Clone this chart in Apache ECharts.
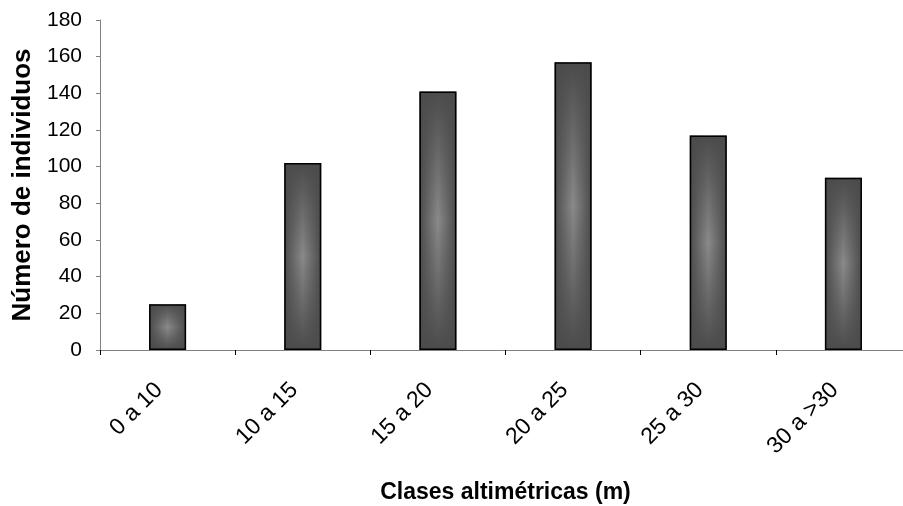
<!DOCTYPE html>
<html>
<head>
<meta charset="utf-8">
<script src="https://cdn.jsdelivr.net/npm/echarts@6/dist/echarts.min.js"></script>
<style>
html,body{margin:0;padding:0;background:#fff;}
#chart{width:903px;height:506px;}
</style>
</head>
<body>
<div id="chart"></div>
<script>
const categories = ['0 a 10', '10 a 15', '15 a 20', '20 a 25', '25 a 30', '30 a >30'];
const values = [25, 102, 141, 157, 117, 94];
const yTicks = { min: 0, max: 180, interval: 20 };
const xTitle = 'Clases altimétricas (m)';
const yTitle = 'Número de individuos';

const FONT = '"Liberation Sans", Arial, sans-serif';
const chart = echarts.init(document.getElementById('chart'));
chart.setOption({
  animation: false,
  backgroundColor: '#ffffff',
  grid: { left: 100, right: -8, top: 20, bottom: 156, containLabel: false, outerBoundsMode: 'none' },
  xAxis: {
    type: 'category',
    data: categories,
    boundaryGap: true,
    name: xTitle,
    nameLocation: 'middle',
    nameGap: 131,
    nameMoveOverlap: false,
    nameTextStyle: { fontFamily: FONT, fontWeight: 'bold', fontSize: 23, color: '#000' },
    axisLine: { lineStyle: { color: '#808080', width: 1 } },
    axisTick: { show: true, length: 5, lineStyle: { color: '#000' } },
    axisLabel: { rotate: 45, margin: 28, padding: [0, 12, 0, 0], fontFamily: FONT, fontSize: 23, color: '#000', interval: 0 },
    splitLine: { show: false }
  },
  yAxis: {
    type: 'value',
    min: yTicks.min,
    max: yTicks.max,
    interval: yTicks.interval,
    name: yTitle,
    nameLocation: 'middle',
    nameGap: 64,
    nameRotate: 90,
    nameMoveOverlap: false,
    nameTextStyle: { fontFamily: FONT, fontWeight: 'bold', fontSize: 26, color: '#000' },
    axisLine: { show: true, lineStyle: { color: '#808080', width: 1 } },
    axisTick: { show: true, length: 4, lineStyle: { color: '#808080' } },
    axisLabel: { margin: 18, fontFamily: FONT, fontSize: 21, color: '#000' },
    splitLine: { show: false }
  },
  series: [
    {
      type: 'bar',
      data: values,
      barWidth: 37,
      silent: true,
      itemStyle: {
        color: {
          type: 'linear', x: 0, y: 0, x2: 1, y2: 0,
          colorStops: [
            { offset: 0, color: '#4b4b4b' },
            { offset: 0.5, color: '#8a8a8a' },
            { offset: 1, color: '#4b4b4b' }
          ]
        }
      }
    },
    {
      type: 'bar',
      data: values,
      barWidth: 37,
      barGap: '-100%',
      silent: true,
      itemStyle: {
        color: {
          type: 'linear', x: 0, y: 0, x2: 0, y2: 1,
          colorStops: [
            { offset: 0, color: 'rgba(75,75,75,1)' },
            { offset: 0.5, color: 'rgba(75,75,75,0)' },
            { offset: 1, color: 'rgba(75,75,75,1)' }
          ]
        },
        borderColor: '#000',
        borderWidth: 1.5
      }
    }
  ]
});
</script>
</body>
</html>
